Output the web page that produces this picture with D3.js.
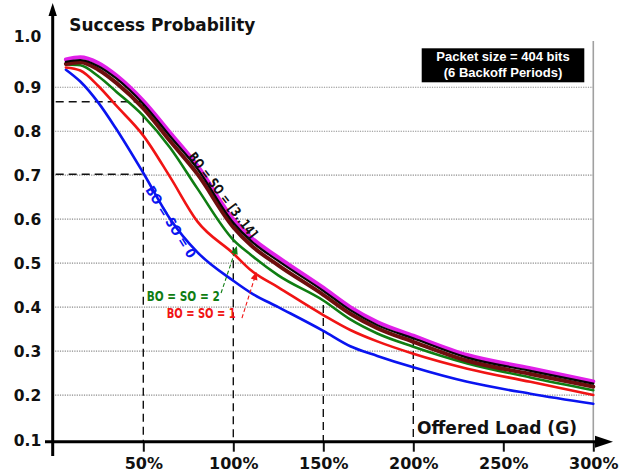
<!DOCTYPE html>
<html><head><meta charset="utf-8">
<script src="https://cdn.jsdelivr.net/npm/d3@7"></script>
<style>body{margin:0;background:#fff}svg{display:block}</style>
</head><body>
<svg id="c" width="631" height="473"></svg>
<script>
// ---------- data ----------
const loads   = [7, 15, 25, 35, 50, 65, 80, 100, 110, 125, 150, 165, 180, 200, 230, 265, 300];
const boso0   = [0.940,0.913,0.865,0.805,0.705,0.600,0.525,0.460,0.432,0.400,0.346,0.311,0.289,0.263,0.230,0.203,0.180];
const boso1   = [0.945,0.938,0.903,0.858,0.790,0.695,0.595,0.522,0.483,0.445,0.382,0.348,0.322,0.294,0.260,0.230,0.200];
const boso2   = [0.952,0.950,0.925,0.890,0.835,0.762,0.670,0.553,0.518,0.472,0.415,0.372,0.340,0.310,0.272,0.240,0.211];
const boso3   = [0.953,0.957,0.940,0.910,0.852,0.777,0.703,0.582,0.540,0.495,0.428,0.385,0.352,0.321,0.278,0.248,0.219];
const boso14  = [0.963,0.968,0.955,0.927,0.869,0.796,0.722,0.600,0.558,0.513,0.444,0.400,0.366,0.335,0.291,0.261,0.231];
const bosoMid = [0.958,0.962,0.948,0.920,0.862,0.788,0.715,0.592,0.550,0.505,0.437,0.393,0.359,0.329,0.285,0.255,0.226];

const xTicks  = [50, 100, 150, 200, 250, 300];
const yTicks  = [0.1, 0.2, 0.3, 0.4, 0.5, 0.6, 0.7, 0.8, 0.9, 1.0];
const gridVals = [0.2, 0.3, 0.4, 0.5, 0.6, 0.7, 0.8, 0.9];
const vMarkLoads = [50, 100, 150, 200];
const vMarkTops  = [0.867, 0.595, 0.405, 0.33];
const hMarkVals  = [0.867, 0.702];

// ---------- setup ----------
const svg = d3.select('#c');
const x = d3.scaleLinear().domain([0, 300]).range([53.3, 593.3]);
const y = d3.scaleLinear().domain([0.1, 1.0]).range([439.0, 43.3]);
const axisY = y(0.1) + 2.7;
const axisX = 52.7;
const boldF = "'DejaVu Sans', Verdana, sans-serif";
const condF = "'DejaVu Sans Condensed', 'DejaVu Sans', sans-serif";

// gridlines
svg.append('g').selectAll('line').data(gridVals).join('line')
  .attr('x1', axisX).attr('x2', x(300))
  .attr('y1', d => y(d)).attr('y2', d => y(d))
  .attr('stroke', '#8a8a8a').attr('stroke-width', 1.2).attr('stroke-dasharray', '1.2,1.2');

// right grey border
svg.append('line').attr('x1', x(300)).attr('x2', x(300)).attr('y1', 41).attr('y2', axisY)
  .attr('stroke', '#a0a0a0').attr('stroke-width', 1.6);

// dashed marker lines
svg.append('g').selectAll('line').data(vMarkLoads).join('line')
  .attr('x1', d => x(d)).attr('x2', d => x(d))
  .attr('y1', (d, i) => y(vMarkTops[i])).attr('y2', axisY)
  .attr('stroke', '#111').attr('stroke-width', 1.4).attr('stroke-dasharray', '8,5');
svg.append('g').selectAll('line').data(hMarkVals).join('line')
  .attr('x1', axisX + 3).attr('x2', x(50))
  .attr('y1', d => y(d)).attr('y2', d => y(d))
  .attr('stroke', '#111').attr('stroke-width', 1.4).attr('stroke-dasharray', '8,5');

// curves
const line = d3.line().x((d, i) => x(loads[i])).y(d => y(d)).curve(d3.curveMonotoneX);
const series = [
  {v: boso0,   c: '#0a14f0', w: 2.6},
  {v: boso1,   c: '#f01414', w: 2.6},
  {v: boso2,   c: '#0f7d12', w: 2.6},
  {v: boso14,  c: '#e020e8', w: 4.0},
  {v: boso3,   c: '#6e0e0e', w: 4.0},
  {v: bosoMid, c: '#050505', w: 2.2}
];
svg.append('g').selectAll('path').data(series).join('path')
  .attr('d', d => line(d.v)).attr('fill', 'none')
  .attr('stroke', d => d.c).attr('stroke-width', d => d.w)
  .attr('stroke-linejoin', 'round').attr('stroke-linecap', 'round');

// axes via d3
const xa = d3.axisBottom(x).tickValues(xTicks).tickFormat(d => d + '%').tickSize(10).tickPadding(6);
const gx = svg.append('g').attr('transform', `translate(0,${axisY})`).call(xa);
gx.select('.domain').remove();
gx.selectAll('.tick line').attr('stroke', '#111').attr('stroke-width', 2);
gx.selectAll('.tick text').attr('font-family', boldF).attr('font-weight', 'bold')
  .attr('font-size', 16).attr('fill', '#111');

const ya = d3.axisLeft(y).tickValues(yTicks).tickFormat(d3.format('.1f')).tickSize(0).tickPadding(11.5);
const gy = svg.append('g').attr('transform', `translate(${axisX},0)`).call(ya);
gy.select('.domain').remove();
gy.selectAll('.tick text').attr('font-family', boldF).attr('font-weight', 'bold')
  .attr('font-size', 15.5).attr('fill', '#111')
  .attr('dy', d => d === 1.0 ? '-0.1em' : d === 0.1 ? '0.45em' : '0.32em');

// axis lines with arrows
svg.append('line').attr('x1', 45).attr('x2', 598).attr('y1', axisY).attr('y2', axisY)
  .attr('stroke', '#000').attr('stroke-width', 3);
svg.append('path').attr('d', `M613,${axisY} L595,${axisY - 6} L595,${axisY + 6} Z`).attr('fill', '#000');
svg.append('line').attr('x1', axisX).attr('x2', axisX).attr('y1', 14).attr('y2', 456)
  .attr('stroke', '#000').attr('stroke-width', 3);
svg.append('path').attr('d', `M${axisX},3 L${axisX - 4.2},16 L${axisX + 4.2},16 Z`).attr('fill', '#000');

// titles
svg.append('text').attr('x', 69.3).attr('y', 30.5).text('Success Probability')
  .attr('font-family', boldF).attr('font-weight', 'bold').attr('font-size', 17)
  .attr('textLength', 186).attr('lengthAdjust', 'spacingAndGlyphs').attr('fill', '#111');
svg.append('text').attr('x', 417).attr('y', 434.3).text('Offered Load (G)')
  .attr('font-family', boldF).attr('font-weight', 'bold').attr('font-size', 18)
  .attr('textLength', 160).attr('lengthAdjust', 'spacingAndGlyphs').attr('fill', '#111');

// legend box
svg.append('rect').attr('x', 421.7).attr('y', 48.3).attr('width', 162.6).attr('height', 34).attr('fill', '#000');
const legLines = ['Packet size = 404 bits', '(6 Backoff Periods)'];
svg.append('g').selectAll('text').data(legLines).join('text')
  .attr('x', 503).attr('y', (d, i) => 61.3 + i * 15.6).attr('text-anchor', 'middle')
  .attr('font-family', "'Liberation Sans', Arial, sans-serif").attr('font-weight', 'bold')
  .attr('font-size', 13).attr('fill', '#fff').text(d => d);

// curve labels
function rotLabel(txt, g, v, ang, len, col) {
  svg.append('text').attr('transform', `translate(${x(g)},${y(v)}) rotate(${ang})`)
    .attr('text-anchor', 'middle').attr('dominant-baseline', 'central')
    .attr('font-family', condF).attr('font-weight', 'bold').attr('font-size', 13.5)
    .attr('textLength', len).attr('lengthAdjust', 'spacingAndGlyphs')
    .attr('fill', col).text(txt);
}
rotLabel('BO = SO = [3..14]', 94.4, 0.655, 52.5, 104, '#111');
rotLabel('BO = SO = 0', 65.4, 0.594, 58, 82, '#0a14f0');

svg.append('text').attr('x', x(51.9)).attr('y', y(0.414)).text('BO = SO = 2')
  .attr('font-family', condF).attr('font-weight', 'bold').attr('font-size', 13.5)
  .attr('textLength', 73).attr('lengthAdjust', 'spacingAndGlyphs').attr('fill', '#0f7d12');
svg.append('text').attr('x', x(63)).attr('y', y(0.375)).text('BO = SO = 1')
  .attr('font-family', condF).attr('font-weight', 'bold').attr('font-size', 13.5)
  .attr('textLength', 69).attr('lengthAdjust', 'spacingAndGlyphs').attr('fill', '#f01414');

// dashed annotation arrows
function arrow(g0, v0, g1, v1, col) {
  const x0 = x(g0), y0 = y(v0), x1 = x(g1), y1 = y(v1);
  const a = Math.atan2(y1 - y0, x1 - x0);
  svg.append('line').attr('x1', x0).attr('y1', y0)
    .attr('x2', x1 - 6 * Math.cos(a)).attr('y2', y1 - 6 * Math.sin(a))
    .attr('stroke', col).attr('stroke-width', 1.1).attr('stroke-dasharray', '4,2.5');
  const s = 8, h = 3.5;
  const bx = x1 - s * Math.cos(a), by = y1 - s * Math.sin(a);
  svg.append('path').attr('d',
    `M${x1},${y1} L${bx + h * Math.sin(a)},${by - h * Math.cos(a)} L${bx - h * Math.sin(a)},${by + h * Math.cos(a)} Z`)
    .attr('fill', col);
}
arrow(93.2, 0.432, 102, 0.539, '#0f7d12');
arrow(104.8, 0.375, 112.9, 0.48, '#f01414');
</script>
</body></html>
